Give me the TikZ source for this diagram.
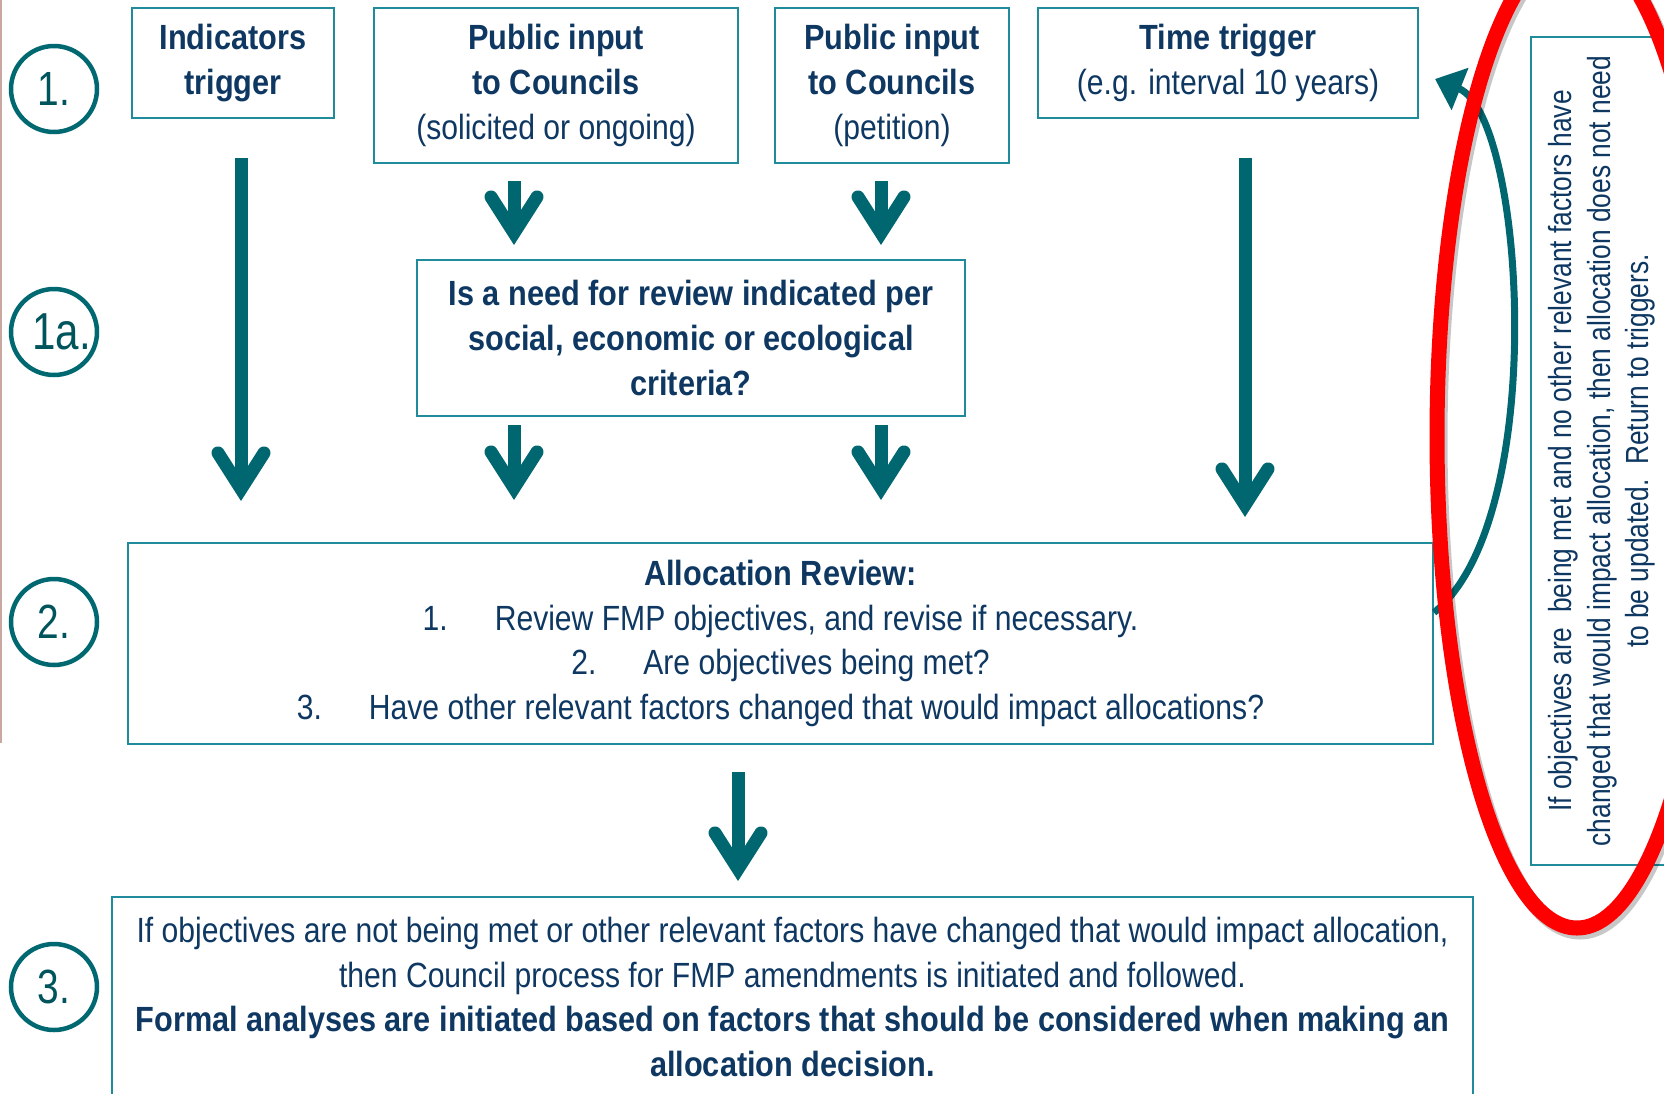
\documentclass[tikz,border=0pt]{standalone}
\usepackage{fontspec}
\setmainfont{Liberation Sans}[UprightFeatures={FakeStretch=0.86}, BoldFeatures={FakeStretch=0.877}]
\newfontfamily\numfont{Liberation Sans}[FakeStretch=0.81]
\newfontfamily\notefont{Liberation Sans}[FakeStretch=0.823]
\usetikzlibrary{arrows.meta}
\definecolor{txt}{RGB}{14,56,98}
\definecolor{boxc}{RGB}{32,140,155}
\definecolor{arr}{RGB}{0,102,112}
\definecolor{circc}{RGB}{0,104,112}
\definecolor{circt}{RGB}{0,84,92}
\definecolor{redc}{RGB}{255,0,0}
\definecolor{edgec}{RGB}{200,168,160}
\begin{document}
\begin{tikzpicture}[x=1pt,y=-1pt,
  tbox/.style={draw=boxc, line width=2pt, text=txt, align=center, inner sep=0pt,
    font=\fontsize{35}{44.6}\selectfont},
  numcirc/.style={circle, draw=circc, line width=4.5pt, minimum size=86pt, inner sep=0pt,
    text=circt, font=\numfont\fontsize{48}{50}\selectfont},
  bigarrow/.style={draw=arr, line width=13pt,
    -{Straight Barb[length=36pt,width=46pt,line cap=round,line join=miter]}},
  ]
\useasboundingbox (0,0) rectangle (1664,1093);
\clip (0,0) rectangle (1664,1093);
\fill[white] (0,0) rectangle (1664,1093);

\draw[edgec, line width=1.5pt] (0.75,0) -- (0.75,743);

% number circles
\node[numcirc] (n1) at (54,89) {1.};
\node[numcirc, font=\numfont\fontsize{52}{54}\selectfont] (n1a) at (54,332) {\hspace{15pt}1a.};
\node[numcirc] (n2) at (54,622) {2.};
\node[numcirc] (n3) at (54,987) {3.};

% boxes
\node[tbox, minimum width=202pt, minimum height=110pt] (ind) at (233,63)
  {\textbf{Indicators}\\\textbf{trigger}};
\node[tbox, minimum width=364pt, minimum height=155pt] (pub1) at (556,85.5)
  {\textbf{Public input}\\\textbf{to Councils}\\(solicited or ongoing)};
\node[tbox, minimum width=234pt, minimum height=155pt] (pub2) at (892,85.5)
  {\textbf{Public input}\\\textbf{to Councils}\\(petition)};
\node[tbox, minimum width=380pt, minimum height=110pt] (time) at (1228,63)
  {\textbf{Time trigger}\\(e.g. interval 10 years)};
\node[tbox, minimum width=548pt, minimum height=156pt] (q1a) at (691,338)
  {\textbf{Is a need for review indicated per}\\\textbf{social, economic or ecological}\\\textbf{criteria?}};
\node[tbox, minimum width=1305pt, minimum height=201pt] (rev) at (780.5,643.5)
  {\textbf{Allocation Review:}\\
   1.\hspace{47pt}Review FMP objectives, and revise if necessary.\\
   2.\hspace{47pt}Are objectives being met?\\
   3.\hspace{47pt}Have other relevant factors changed that would impact allocations?};
\node[tbox, anchor=north, minimum width=1361pt, minimum height=200pt] (act) at (792.5,896)
  {If objectives are not being met or other relevant factors have changed that would impact allocation,\\
   then Council process for FMP amendments is initiated and followed.\\
   \textbf{Formal analyses are initiated based on factors that should be considered when making an}\\
   \textbf{allocation decision.}};
\node[tbox, rotate=90, minimum width=828pt, minimum height=142pt,
  font=\notefont\fontsize{32}{38.7}\selectfont] (note) at (1602,451)
  {If objectives are\ \ being met and no other relevant factors have\\
   changed that would impact allocation, then allocation does not need\\
   to be updated.\ \ Return to triggers.};

% arrow columns
\coordinate (cA) at (241,0);
\coordinate (cB) at (514,0);
\coordinate (cC) at (881,0);
\coordinate (cD) at (1245,0);
\coordinate (cE) at (738,0);

\draw[bigarrow, shorten <=39pt, shorten >=41pt] (ind.south -| cA) -- (rev.north -| cA);
\draw[bigarrow, shorten <=17pt, shorten >=14pt] (pub1.south -| cB) -- (q1a.north -| cB);
\draw[bigarrow, shorten <=17pt, shorten >=14pt] (pub2.south -| cC) -- (q1a.north -| cC);
\draw[bigarrow, shorten <=8pt, shorten >=42pt] (q1a.south -| cB) -- (rev.north -| cB);
\draw[bigarrow, shorten <=8pt, shorten >=42pt] (q1a.south -| cC) -- (rev.north -| cC);
\draw[bigarrow, shorten <=39pt, shorten >=25pt] (time.south -| cD) -- (rev.north -| cD);
\draw[bigarrow, shorten <=27pt, shorten >=15pt] (rev.south -| cE) -- (act.north -| cE);

% return arrow
\coordinate (tipc) at (1435,79);
\draw[draw=arr, line width=7pt, -{Triangle[length=27pt,width=44pt]}]
  ([yshift=31pt]rev.east) .. controls (1550,520) and (1525,115) .. (tipc);

% red ellipse with shadow
\draw[black, opacity=0.22, line width=15pt] (1580,440) ellipse [x radius=140pt, y radius=492pt];
\draw[redc, line width=15pt] (1577,436) ellipse [x radius=140pt, y radius=492pt];
\end{tikzpicture}
\end{document}
